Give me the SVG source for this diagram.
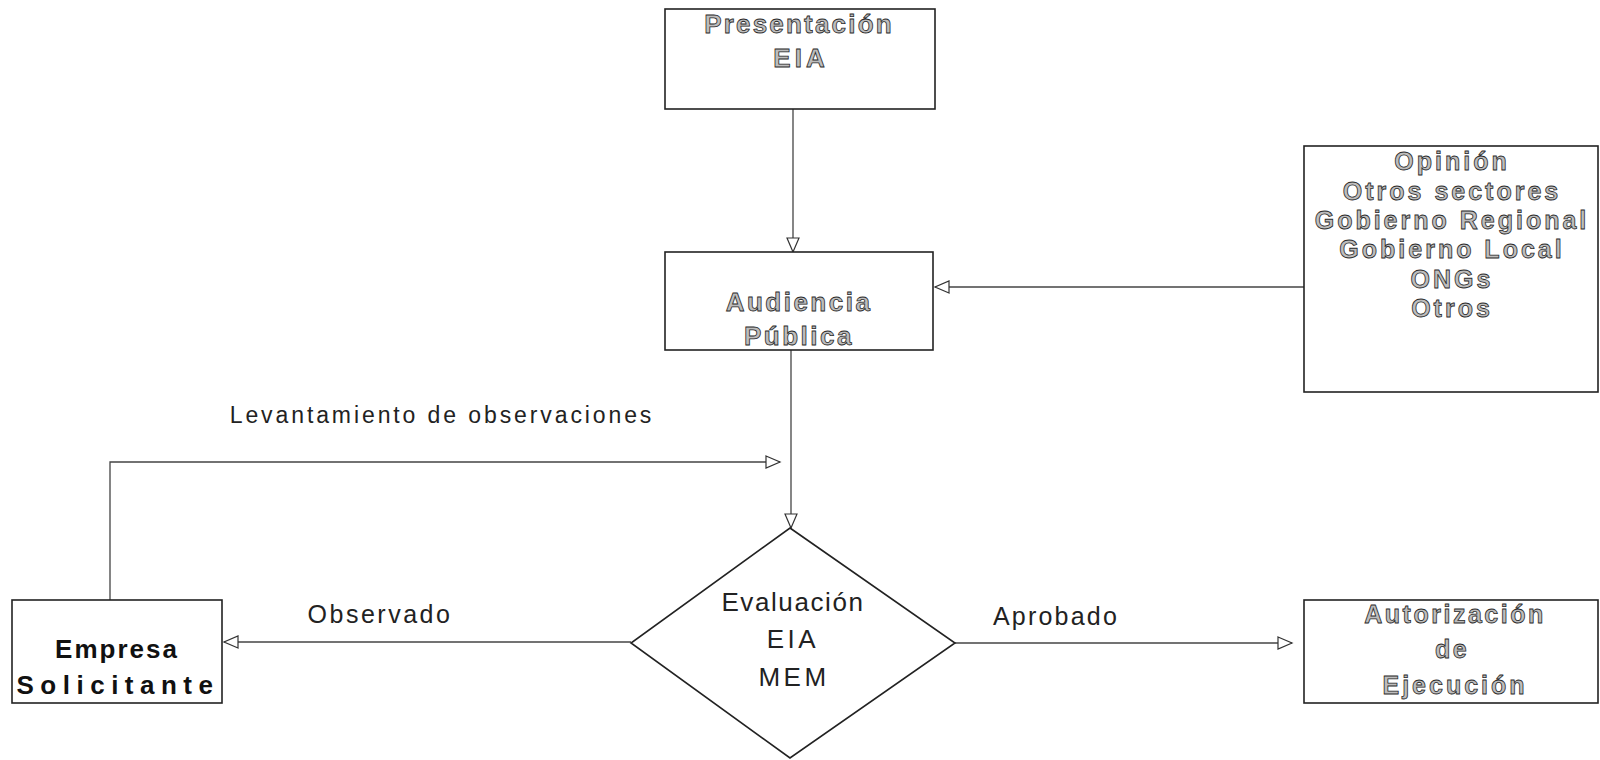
<svg xmlns="http://www.w3.org/2000/svg" width="1600" height="760" viewBox="0 0 1600 760">
  <defs>
    <marker id="arrow" markerUnits="userSpaceOnUse" markerWidth="18" markerHeight="16" refX="15" refY="7" orient="auto">
      <path d="M1,1 L15,7 L1,13 Z" fill="#fff" stroke="#333" stroke-width="1.2"/>
    </marker>
    <style>
      .box { fill: #fff; stroke: #222; stroke-width: 1.6; }
      .conn { fill: none; stroke: #444; stroke-width: 1.3; marker-end: url(#arrow); }
      .hollow { font-family: "Liberation Sans", Arial, sans-serif; font-weight: bold; fill: #bdbdbd; stroke: #2a2a2a; stroke-width: 0.8; text-anchor: middle; }
      .solid { font-family: "Liberation Sans", Arial, sans-serif; font-weight: bold; fill: #111; text-anchor: middle; }
      .plain { font-family: "Liberation Sans", Arial, sans-serif; fill: #222; text-anchor: middle; }
    </style>
  </defs>
  <rect width="1600" height="760" fill="#fff"/>

  <!-- connectors -->
  <g id="connectors">
    <line class="conn" x1="793" y1="109" x2="793" y2="252"/>
    <line class="conn" x1="791" y1="350" x2="791" y2="528"/>
    <line class="conn" x1="1304" y1="287" x2="935" y2="287"/>
    <path class="conn" d="M110,600 V462 H780"/>
    <line class="conn" x1="631" y1="642" x2="224" y2="642"/>
    <line class="conn" x1="955" y1="643" x2="1292" y2="643"/>
    <text class="plain" x="442" y="423" font-size="23" letter-spacing="2.9">Levantamiento de observaciones</text>
    <text class="plain" x="380" y="623" font-size="25" letter-spacing="2.5">Observado</text>
    <text class="plain" x="1056" y="625" font-size="25" letter-spacing="2.2">Aprobado</text>
  </g>

  <!-- Presentación EIA -->
  <g id="presentacion">
    <rect class="box" x="665" y="9" width="270" height="100"/>
    <text class="hollow" x="799" y="33" font-size="26" letter-spacing="2.2">Presentación</text>
    <text class="hollow" x="801" y="67" font-size="26" letter-spacing="4">EIA</text>
  </g>

  <!-- Audiencia Pública -->
  <g id="audiencia">
    <rect class="box" x="665" y="252" width="268" height="98"/>
    <text class="hollow" x="799" y="311" font-size="26" letter-spacing="2.5">Audiencia</text>
    <text class="hollow" x="799" y="345" font-size="26" letter-spacing="2.5">Pública</text>
  </g>

  <!-- Opinión -->
  <g id="opinion">
    <rect class="box" x="1304" y="146" width="294" height="246"/>
    <text class="hollow" x="1452" y="170" font-size="25" letter-spacing="3">Opinión</text>
    <text class="hollow" x="1452" y="200" font-size="25" letter-spacing="3">Otros sectores</text>
    <text class="hollow" x="1452" y="229" font-size="25" letter-spacing="3">Gobierno Regional</text>
    <text class="hollow" x="1452" y="258" font-size="25" letter-spacing="3">Gobierno Local</text>
    <text class="hollow" x="1452" y="288" font-size="25" letter-spacing="3">ONGs</text>
    <text class="hollow" x="1452" y="317" font-size="25" letter-spacing="3">Otros</text>
  </g>

  <!-- Evaluación EIA MEM -->
  <g id="evaluacion">
    <polygon class="box" points="790,528 955,643 790,758 631,643"/>
    <text class="plain" x="793" y="611" font-size="26" letter-spacing="1.6">Evaluación</text>
    <text class="plain" x="793" y="648" font-size="26" letter-spacing="3.5">EIA</text>
    <text class="plain" x="794" y="686" font-size="26" letter-spacing="3.5">MEM</text>
  </g>

  <!-- Empresa Solicitante -->
  <g id="empresa">
    <rect class="box" x="12" y="600" width="210" height="103"/>
    <text class="solid" x="117" y="658" font-size="26" letter-spacing="2">Empresa</text>
    <text class="solid" x="118" y="694" font-size="26" letter-spacing="6.5">Solicitante</text>
  </g>

  <!-- Autorización de Ejecución -->
  <g id="autorizacion">
    <rect class="box" x="1304" y="600" width="294" height="103"/>
    <text class="hollow" x="1455" y="623" font-size="25" letter-spacing="2.5">Autorización</text>
    <text class="hollow" x="1452" y="658" font-size="25" letter-spacing="2.5">de</text>
    <text class="hollow" x="1455" y="694" font-size="25" letter-spacing="3">Ejecución</text>
  </g>
</svg>
